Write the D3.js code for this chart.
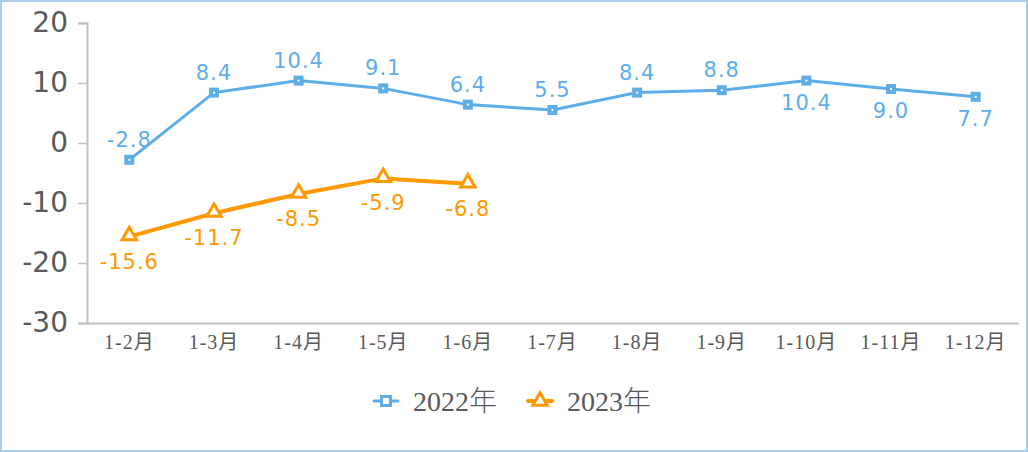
<!DOCTYPE html>
<html>
<head>
<meta charset="utf-8">
<script src="https://cdn.jsdelivr.net/npm/d3@7"></script>
<style>
  body { margin: 0; background: #fff; }
  svg { display: block; }
</style>
</head>
<body>
<script>
// categories and series
const categories = ['1-2月', '1-3月', '1-4月', '1-5月', '1-6月', '1-7月', '1-8月', '1-9月', '1-10月', '1-11月', '1-12月'];
const values2022 = [-2.8, 8.4, 10.4, 9.1, 6.4, 5.5, 8.4, 8.8, 10.4, 9.0, 7.7];
const values2023 = [-15.6, -11.7, -8.5, -5.9, -6.8];
// label position of 2022 points: 1 = above, -1 = below
const labelSide2022 = [1, 1, 1, 1, 1, 1, 1, 1, -1, -1, -1];
const yTicks = [20, 10, 0, -10, -20, -30];
const seriesNames = ['2022年', '2023年'];

const W = 1028, H = 452;
const margin = {top: 23, right: 10, bottom: 129, left: 87};
const blue = '#5dade9', orange = '#ff9900';
const numFont = '"DejaVu Sans", Verdana, sans-serif';
const serifFont = '"Liberation Serif", "Noto Sans CJK SC", serif';

const svg = d3.select('body').append('svg')
    .attr('width', W)
    .attr('height', H);

// outer frame
svg.append('rect')
    .attr('x', 1).attr('y', 1)
    .attr('width', W - 2).attr('height', H - 2)
    .attr('fill', '#fff')
    .attr('stroke', '#a9cdef')
    .attr('stroke-width', 2);

const xScale = d3.scaleBand()
    .domain(categories)
    .range([margin.left, 1018]);

const yScale = d3.scaleLinear()
    .domain([-30, 20])
    .range([323, margin.top]);

const cx = d => xScale(d) + xScale.bandwidth() / 2;

// Y axis
const yAxis = svg.append('g')
    .attr('transform', 'translate(' + margin.left + ',0)')
    .call(d3.axisLeft(yScale).tickValues(yTicks).tickSize(9).tickPadding(10).tickFormat(d => String(d)));
yAxis.select('.domain').attr('stroke', '#bfbfbf').attr('stroke-width', 2);
yAxis.selectAll('.tick line').attr('stroke', '#bfbfbf').attr('stroke-width', 1.5);
yAxis.selectAll('.tick text')
    .attr('fill', '#595959')
    .attr('font-family', numFont)
    .attr('font-size', 28);

// X axis
const xAxis = svg.append('g')
    .attr('transform', 'translate(0,' + yScale(-30) + ')')
    .call(d3.axisBottom(xScale).tickSize(0).tickPadding(11));
xAxis.select('.domain').attr('stroke', '#bfbfbf').attr('stroke-width', 2);
xAxis.selectAll('.tick text')
    .attr('fill', '#595959')
    .attr('dy', '0.75em')
    .attr('font-family', serifFont)
    .attr('font-size', 20)
    .attr('letter-spacing', 1);

const line = d3.line()
    .x((d, i) => cx(categories[i]))
    .y(d => yScale(d));

// 2022 series
svg.append('path')
    .datum(values2022)
    .attr('fill', 'none')
    .attr('stroke', blue)
    .attr('stroke-width', 3)
    .attr('d', line);

svg.selectAll('.sq')
    .data(values2022)
    .enter().append('rect')
    .attr('x', (d, i) => cx(categories[i]) - 5)
    .attr('y', d => yScale(d) - 5)
    .attr('width', 10).attr('height', 10)
    .attr('fill', blue);

svg.selectAll('.sqdot')
    .data(values2022)
    .enter().append('rect')
    .attr('x', (d, i) => cx(categories[i]) - 1)
    .attr('y', d => yScale(d) - 1)
    .attr('width', 2).attr('height', 2)
    .attr('fill', '#fff');

svg.selectAll('.lbl22')
    .data(values2022)
    .enter().append('text')
    .attr('x', (d, i) => cx(categories[i]))
    .attr('y', (d, i) => yScale(d) + (labelSide2022[i] > 0 ? -13 : 29))
    .attr('text-anchor', 'middle')
    .attr('fill', blue)
    .attr('font-family', numFont)
    .attr('font-size', 21)
    .attr('letter-spacing', 1)
    .text(d => d.toFixed(1));

// 2023 series
svg.append('path')
    .datum(values2023)
    .attr('fill', 'none')
    .attr('stroke', orange)
    .attr('stroke-width', 4)
    .attr('d', line);

const tri = d3.symbol().type(d3.symbolTriangle).size(90);

svg.selectAll('.tri')
    .data(values2023)
    .enter().append('path')
    .attr('d', tri)
    .attr('transform', (d, i) => 'translate(' + cx(categories[i]) + ',' + (yScale(d) - 1) + ')')
    .attr('fill', '#fff')
    .attr('stroke', orange)
    .attr('stroke-width', 3);

svg.selectAll('.lbl23')
    .data(values2023)
    .enter().append('text')
    .attr('x', (d, i) => cx(categories[i]))
    .attr('y', d => yScale(d) + 32)
    .attr('text-anchor', 'middle')
    .attr('fill', orange)
    .attr('font-family', numFont)
    .attr('font-size', 21)
    .attr('letter-spacing', 1)
    .text(d => d.toFixed(1));

// Legend
const legend = svg.append('g').attr('transform', 'translate(0,401)');
const legendItems = [
    {name: seriesNames[0], color: blue, x: 372, type: 'square'},
    {name: seriesNames[1], color: orange, x: 526, type: 'triangle'}
];
legendItems.forEach(item => {
    const g = legend.append('g').attr('transform', 'translate(' + item.x + ',0)');
    g.append('line')
        .attr('x1', 2).attr('x2', 26)
        .attr('y1', 0).attr('y2', 0)
        .attr('stroke', item.color)
        .attr('stroke-width', item.type === 'square' ? 3 : 4)
        .attr('stroke-linecap', 'round');
    if (item.type === 'square') {
        g.append('rect').attr('x', 8).attr('y', -6).attr('width', 12).attr('height', 12).attr('fill', item.color);
        g.append('rect').attr('x', 11).attr('y', -3).attr('width', 6).attr('height', 6).attr('fill', '#fff');
    } else {
        g.append('path')
            .attr('d', tri)
            .attr('transform', 'translate(14,0)')
            .attr('fill', '#fff')
            .attr('stroke', item.color)
            .attr('stroke-width', 3);
    }
    const t = g.append('text')
        .attr('x', 41)
        .attr('y', 0)
        .attr('dy', '0.35em')
        .attr('fill', '#595959')
        .attr('font-size', 28);
    t.append('tspan')
        .attr('font-family', '"Liberation Serif", serif')
        .text(item.name.slice(0, -1));
    t.append('tspan')
        .attr('font-family', '"Noto Sans CJK SC", sans-serif')
        .attr('font-weight', 300)
        .text(item.name.slice(-1));
});
</script>
</body>
</html>
